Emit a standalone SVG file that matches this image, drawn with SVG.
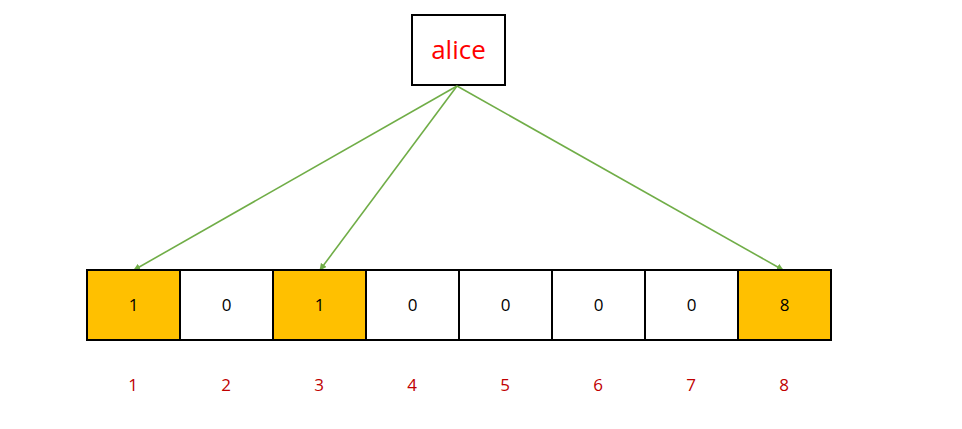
<svg xmlns="http://www.w3.org/2000/svg" width="962" height="429" viewBox="0 0 962 429">
<defs>
<style>
.cell{stroke:#000;stroke-width:2}
.hl{fill:#FFC000}
.wh{fill:#FFFFFF}
.ct{font-family:"Open Sans","Noto Sans",sans-serif;font-size:17px;fill:#000;text-anchor:middle}
.idx{font-family:"Open Sans","Noto Sans",sans-serif;font-size:17px;fill:#C00000;text-anchor:middle}
.conn{stroke:#70AD47;stroke-width:1.6;fill:none;marker-end:url(#ah)}
</style>
<marker id="ah" viewBox="0 0 10 10" refX="9" refY="5" markerWidth="7" markerHeight="7" orient="auto" markerUnits="userSpaceOnUse">
<path d="M0,0 L10,5 L0,10 z" fill="#70AD47"/>
</marker>
</defs>
<rect width="962" height="429" fill="#fff"/>
<g id="alice">
<rect x="412" y="15" width="93" height="70" fill="#fff" stroke="#000" stroke-width="2"/>
<text x="458.5" y="59" font-family="'Open Sans','Noto Sans',sans-serif" font-size="26" fill="#FF0000" text-anchor="middle">alice</text>
</g>
<g id="connectors">
<line class="conn" x1="457" y1="86" x2="134" y2="270"/>
<line class="conn" x1="457" y1="86" x2="320" y2="270"/>
<line class="conn" x1="457" y1="86" x2="783" y2="270"/>
</g>
<g id="cell1"><rect class="cell hl" x="87" y="270" width="93" height="70"/><text class="ct" x="133.5" y="311">1</text></g>
<g id="cell2"><rect class="cell wh" x="180" y="270" width="93" height="70"/><text class="ct" x="226.5" y="311">0</text></g>
<g id="cell3"><rect class="cell hl" x="273" y="270" width="93" height="70"/><text class="ct" x="319.5" y="311">1</text></g>
<g id="cell4"><rect class="cell wh" x="366" y="270" width="93" height="70"/><text class="ct" x="412.5" y="311">0</text></g>
<g id="cell5"><rect class="cell wh" x="459" y="270" width="93" height="70"/><text class="ct" x="505.5" y="311">0</text></g>
<g id="cell6"><rect class="cell wh" x="552" y="270" width="93" height="70"/><text class="ct" x="598.5" y="311">0</text></g>
<g id="cell7"><rect class="cell wh" x="645" y="270" width="93" height="70"/><text class="ct" x="691.5" y="311">0</text></g>
<g id="cell8"><rect class="cell hl" x="738" y="270" width="93" height="70"/><text class="ct" x="784.5" y="311">8</text></g>
<g id="indices">
<text class="idx" x="133" y="391">1</text>
<text class="idx" x="226" y="391">2</text>
<text class="idx" x="319" y="391">3</text>
<text class="idx" x="412" y="391">4</text>
<text class="idx" x="505" y="391">5</text>
<text class="idx" x="598" y="391">6</text>
<text class="idx" x="691" y="391">7</text>
<text class="idx" x="784" y="391">8</text>
</g>
</svg>
